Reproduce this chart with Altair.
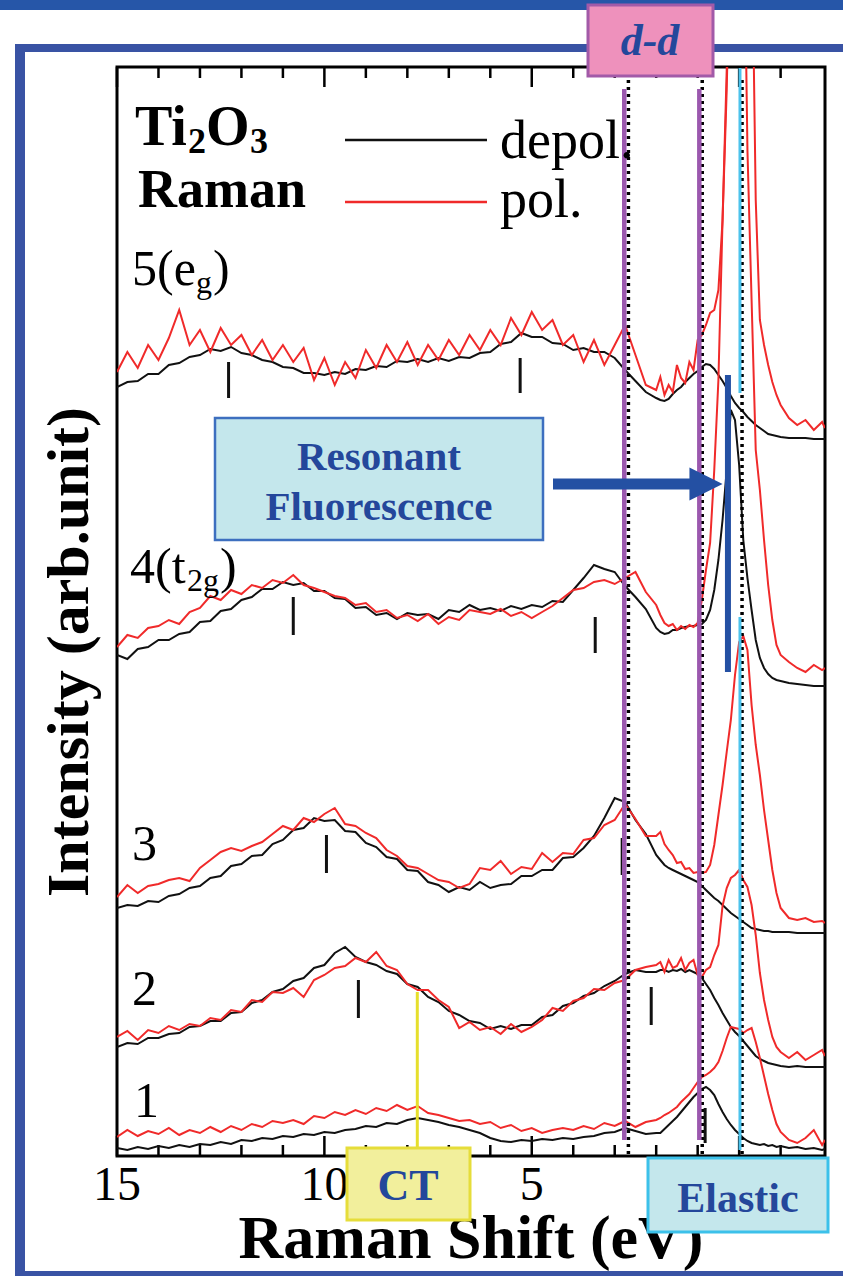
import altair as alt
import pandas as pd

# ---------------- data ----------------
energy = [15.0, 14.75, 14.5, 14.25, 14.0, 13.75, 13.5, 13.25, 13.0, 12.75, 12.5, 12.25, 12.0,
          11.75, 11.5, 11.25, 11.0, 10.75, 10.5, 10.25, 10.0, 9.75, 9.5, 9.25, 9.0, 8.75, 8.5,
          8.25, 8.0, 7.75, 7.5, 7.25, 7.0, 6.75, 6.5, 6.25, 6.0, 5.75, 5.5, 5.25, 5.0, 4.75, 4.5,
          4.25, 4.0, 3.75, 3.5, 3.25, 3.0, 2.75, 2.5, 2.25,
          2.0, 1.9, 1.8, 1.7, 1.6, 1.5, 1.4, 1.3, 1.2, 1.1, 1.0, 0.9, 0.8, 0.7, 0.6, 0.5, 0.4,
          0.3, 0.2, 0.1, 0.0, -0.1, -0.2, -0.3, -0.4, -0.5, -0.6, -0.7, -0.8, -0.9, -1.0,
          -1.2, -1.4, -1.6, -1.8, -2.0, -2.07]

depol_5 = [769, 774, 775, 782, 782, 791, 793, 799, 801, 807, 805, 809, 803, 801, 796, 794, 789, 788, 783, 783,
           781, 784, 782, 787, 786, 790, 789, 795, 794, 797, 794, 798, 795, 799, 798, 803, 804, 812, 814, 823,
           819, 819, 813, 812, 806, 808, 804, 804, 798, 786, 775, 764,
           758, 756, 755, 757, 762, 766, 769, 774, 778, 782, 785, 789, 792, 791, 787, 781, 775, 768, 760, 753,
           748, 744, 739, 735, 731, 728, 725, 722, 721, 720, 719,
           718, 718, 718, 717, 717, 717]
pol_5 = [784, 804, 788, 811, 796, 818, 846, 811, 826, 804, 828, 811, 821, 801, 816, 796, 811, 794, 808, 776,
         798, 771, 794, 778, 806, 788, 811, 794, 814, 791, 811, 796, 816, 801, 821, 806, 826, 811, 838, 821,
         844, 826, 836, 811, 821, 794, 816, 791, 811, 831, 801, 771,
         766, 779, 761, 771, 764, 791, 778, 773, 794, 786, 816, 821, 831, 843, 846, 866, 936, 1066, 1250, 1400,
         1450, 1450, 1400, 1250, 956, 836, 811, 791, 774, 761, 751,
         738, 731, 736, 726, 734, 728]

depol_4 = [501, 497, 507, 509, 516, 516, 522, 524, 534, 535, 545, 547, 556, 559, 567, 567, 574, 571, 573, 565,
           565, 558, 557, 548, 549, 541, 543, 537, 543, 541, 542, 537, 546, 544, 551, 546, 548, 545, 550, 547,
           551, 549, 555, 554, 566, 578, 591, 587, 584, 570, 559, 547,
           528, 524, 522, 523, 526, 526, 528, 529, 530, 530, 531, 532, 536, 546, 566, 596, 636, 686, 746, 736,
           691, 616, 578, 546, 516, 498, 488, 482, 478, 476, 475,
           473, 472, 471, 470, 470, 470]
pol_4 = [509, 521, 518, 528, 530, 536, 532, 544, 548, 560, 556, 566, 562, 571, 568, 576, 573, 581, 571, 568,
         564, 560, 558, 551, 553, 544, 546, 538, 541, 535, 542, 532, 539, 536, 546, 544, 542, 547, 540, 544,
         538, 544, 550, 558, 566, 568, 574, 576, 572, 578, 584, 564,
         551, 541, 533, 530, 532, 526, 530, 527, 531, 529, 533, 556, 586, 613, 686, 776, 936, 1086, 1300, 1500,
         1500, 1300, 1006, 856, 706, 666, 616, 571, 536, 511, 501,
         494, 488, 484, 491, 486, 488]

depol_3 = [248, 251, 250, 255, 254, 260, 262, 268, 270, 278, 280, 290, 292, 300, 301, 312, 316, 326, 328, 338,
           335, 336, 325, 324, 313, 309, 299, 297, 286, 285, 274, 271, 264, 269, 266, 274, 268, 271, 272, 280,
           280, 286, 286, 298, 299, 308, 320, 338, 358, 354, 336, 322,
           301, 296, 291, 288, 286, 284, 282, 280, 278, 276, 274, 270, 266, 262, 258, 255, 251, 247, 243, 240,
           237, 234, 231, 228, 227, 226, 225, 225, 224, 224, 224,
           224, 223, 223, 223, 223, 223]
pol_3 = [259, 271, 263, 270, 272, 276, 278, 275, 288, 296, 304, 308, 305, 310, 314, 322, 330, 326, 338, 334,
         342, 348, 332, 330, 323, 318, 306, 300, 290, 288, 282, 276, 274, 268, 272, 288, 286, 295, 282, 289,
         287, 303, 294, 303, 302, 316, 318, 331, 336, 352, 337, 320,
         320, 324, 312, 306, 301, 293, 294, 287, 288, 283, 284, 283, 284, 291, 311, 341, 371, 404, 436, 481,
         514, 520, 506, 451, 411, 381, 346, 316, 286, 263, 248,
         238, 236, 238, 234, 235, 233]

depol_2 = [109, 113, 112, 118, 118, 122, 123, 129, 130, 135, 135, 143, 144, 153, 156, 164, 167, 175, 178, 188,
           191, 203, 209, 199, 194, 191, 185, 182, 172, 169, 159, 154, 145, 141, 135, 133, 127, 130, 127, 131,
           131, 139, 141, 150, 153, 160, 163, 170, 175, 182, 186, 184,
           184, 186, 186, 184, 186, 185, 187, 184, 186, 184, 182, 178, 172, 166, 158, 151, 143, 136, 129, 124,
           120, 115, 110, 105, 100, 97, 95, 93, 92, 91, 90,
           89, 90, 89, 89, 89, 89]
pol_2 = [119, 125, 116, 126, 123, 130, 126, 132, 130, 138, 136, 146, 144, 156, 154, 164, 163, 168, 159, 176,
         181, 188, 190, 198, 194, 204, 190, 186, 172, 166, 166, 156, 149, 128, 134, 126, 129, 122, 132, 124,
         129, 136, 148, 145, 155, 158, 167, 166, 173, 176, 186, 189,
         191, 194, 184, 196, 188, 190, 198, 186, 193, 196, 181, 179, 186, 189, 201, 211, 250, 268, 278, 281,
         286, 276, 269, 251, 221, 183, 156, 136, 119, 109, 104,
         98, 104, 96, 101, 106, 100]

depol_1 = [8, 6, 9, 7, 10, 8, 11, 9, 12, 11, 14, 12, 16, 15, 18, 17, 20, 19, 22, 21,
           24, 23, 26, 27, 30, 29, 33, 32, 36, 38, 36, 34, 31, 29, 26, 23, 18, 15, 14, 16,
           15, 17, 16, 18, 17, 19, 20, 23, 24, 28, 25, 22,
           23, 23, 27, 31, 35, 39, 44, 49, 54, 59, 63, 67, 69, 66, 61, 52, 44, 37, 31, 26,
           22, 18, 15, 13, 12, 11, 12, 10, 11, 9, 10,
           8, 9, 7, 8, 6, 7]
pol_1 = [19, 26, 20, 25, 22, 28, 21, 26, 23, 29, 24, 30, 26, 32, 29, 35, 33, 36, 32, 40,
         38, 44, 41, 46, 42, 48, 45, 51, 46, 50, 43, 41, 38, 35, 36, 32, 34, 28, 31, 25,
         28, 23, 26, 28, 26, 30, 27, 33, 30, 35, 29, 34,
         36, 38, 41, 43, 46, 49, 54, 58, 62, 68, 74, 79, 81, 84, 88, 94, 105, 118, 129, 128,
         127, 123, 126, 128, 114, 98, 80, 62, 46, 32, 24,
         16, 13, 18, 26, 11, 16]

# peak markers (energy, lower / upper end in arb. units)
marker_energy = [12.31, 5.28, 10.75, 3.47, 9.95, 2.82, 9.18, 2.12, 0.82]
marker_low = [758, 763, 521, 503, 283, 281, 138, 131, 13]
marker_high = [794, 798, 559, 539, 321, 318, 176, 169, 48]

major_ticks = [15, 10, 5, 0]
major_labels = ["15", "10", "5", "0"]
minor_ticks = [14, 13, 12, 11, 9, 8, 7, 6, 4, 3, 2, 1, -1]
dotted_energy = [2.67, 0.89, -0.07]
dd_energy = [2.77, 0.96]
elastic_energy = [-0.02]
ct_energy = [7.76]
fluor_energy = [0.27]

# ---------------- build tables ----------------
rows = []
for name, series, pol in [("1", depol_1, "depol"), ("2", depol_2, "depol"), ("3", depol_3, "depol"),
                          ("4", depol_4, "depol"), ("5", depol_5, "depol"),
                          ("1", pol_1, "pol"), ("2", pol_2, "pol"), ("3", pol_3, "pol"),
                          ("4", pol_4, "pol"), ("5", pol_5, "pol")]:
    assert len(series) == len(energy), (name, pol, len(series))
    for e, v in zip(energy, series):
        rows.append({"energy": e, "intensity": v, "spectrum": name, "pol": pol})
df = pd.DataFrame(rows)
df_depol = df[df.pol == "depol"]
df_pol = df[df.pol == "pol"]
df_markers = pd.DataFrame({"energy": marker_energy, "low": marker_low, "high": marker_high})
df_labels = pd.DataFrame({"energy": major_ticks, "label": major_labels})

W, H = 708, 1089
SERIF = "Liberation Serif"
BLUE_TXT = "#24479b"
ONE = pd.DataFrame({"k": [0]})

xs = alt.Scale(domain=[15, -2.07], nice=False, zero=False)
ys = alt.Scale(domain=[0, 1089], nice=False, zero=False)
X0 = alt.X("energy:Q", scale=xs, axis=None)


def text_at(txt, x, y, size, weight="normal", style="normal", color="black",
            align="left", angle=0, baseline="alphabetic"):
    return alt.Chart(ONE).mark_text(
        text=txt, fontSize=size, fontWeight=weight, fontStyle=style, color=color,
        align=align, baseline=baseline, font=SERIF, angle=angle
    ).encode(x=alt.value(x), y=alt.value(y))


def box(x1, y1, x2, y2, fill, stroke=None, sw=0):
    kw = dict(fill=fill)
    if stroke:
        kw.update(stroke=stroke, strokeWidth=sw)
    return alt.Chart(ONE).mark_rect(**kw).encode(
        x=alt.value(x1), x2=alt.value(x2), y=alt.value(y1), y2=alt.value(y2))


def hrule(x1, x2, y, color, sw):
    return alt.Chart(ONE).mark_rule(color=color, strokeWidth=sw, strokeCap="butt").encode(
        x=alt.value(x1), x2=alt.value(x2), y=alt.value(y))


def vrule_data(values, y1, y2, color, sw, dash=None):
    kw = dict(color=color, strokeWidth=sw, strokeCap="butt")
    if dash:
        kw["strokeDash"] = dash
    return alt.Chart(pd.DataFrame({"energy": values})).mark_rule(**kw).encode(
        x=X0, y=alt.value(y1), y2=alt.value(y2))


layers = []
# slide decorations
layers.append(box(-117, -67, 726, -57, "#2656a8"))
layers.append(box(-102, -23, 726, -15, "#3953a4"))
layers.append(box(-102, -23, -92, 1209, "#3953a4"))
layers.append(box(-102, 1204, 726, 1209, "#3953a4"))

# plot frame
layers.append(alt.Chart(ONE).mark_rect(fillOpacity=0, stroke="black", strokeWidth=3).encode(
    x=alt.value(0), x2=alt.value(W), y=alt.value(0), y2=alt.value(H)))

# inward ticks
layers.append(vrule_data(major_ticks, H, H - 20, "black", 2.5))
layers.append(vrule_data(minor_ticks, H, H - 11, "black", 2.5))
layers.append(vrule_data(major_ticks, 0, 20, "black", 2.5))
layers.append(vrule_data(minor_ticks, 0, 11, "black", 2.5))

# tick labels
layers.append(alt.Chart(df_labels).mark_text(font=SERIF, fontSize=48, color="black",
                                             align="center", baseline="alphabetic").encode(
    x=X0, y=alt.value(H + 44), text="label:N"))

# spectra
black = alt.Chart(df_depol).mark_line(color="#111111", strokeWidth=2, clip=True).encode(
    x=X0, y=alt.Y("intensity:Q", scale=ys, axis=None), detail="spectrum:N")
red = alt.Chart(df_pol).mark_line(color="#f02a2a", strokeWidth=2, clip=True).encode(
    x=X0, y=alt.Y("intensity:Q", scale=ys, axis=None), detail="spectrum:N")
layers += [black, red]

# peak markers
layers.append(alt.Chart(df_markers).mark_rule(color="#111111", strokeWidth=3).encode(
    x=X0, y=alt.Y("low:Q", scale=ys, axis=None), y2="high:Q"))

# dotted guide lines and coloured overlays
layers.append(vrule_data(dotted_energy, 13, H, "black", 3.5, [3, 4]))
layers.append(vrule_data(dd_energy, 22, 1073, "#9b58ae", 4.5))
layers.append(vrule_data(elastic_energy, 1, 326, "#4cc3ec", 3))
layers.append(vrule_data(elastic_energy, 550, 1083, "#4cc3ec", 3))
layers.append(vrule_data(ct_energy, 925, 1081, "#e6df2c", 3))
layers.append(vrule_data(fluor_energy, 308, 605, "#2450a3", 6))

# legend
layers.append(text_at("Ti", 18, 78, 56, weight="bold"))
layers.append(text_at("2", 71, 86, 36, weight="bold"))
layers.append(text_at("O", 89, 78, 56, weight="bold"))
layers.append(text_at("3", 133, 86, 36, weight="bold"))
layers.append(text_at("Raman", 21, 140, 54, weight="bold"))
layers.append(hrule(228, 370, 73, "#111111", 2.5))
layers.append(hrule(228, 370, 135, "#f02a2a", 2.5))
layers.append(text_at("depol.", 383, 91, 54))
layers.append(text_at("pol.", 383, 150, 54))

# curve labels
layers.append(text_at("5(e", 15, 218, 50))
layers.append(text_at("g", 79, 226, 32))
layers.append(text_at(")", 96, 218, 50))
layers.append(text_at("4(t", 13, 516, 50))
layers.append(text_at("2g", 70, 524, 32))
layers.append(text_at(")", 103, 516, 50))
layers.append(text_at("3", 15, 793, 50))
layers.append(text_at("2", 15, 938, 50))
layers.append(text_at("1", 17, 1050, 50))

# axis titles
layers.append(text_at("Raman Shift (eV)", 354, 1191, 62, weight="bold", align="center"))
layers.append(text_at("Intensity (arb.unit)", -47, 585, 60, weight="bold", align="center",
                      angle=270, baseline="middle"))

# annotation boxes
layers.append(box(471, -62, 596, 9, "#ee91bc", "#a25aa8", 3))
layers.append(text_at("d-d", 533, -12, 44, weight="bold", style="italic", color=BLUE_TXT, align="center"))
layers.append(box(98, 351, 426, 473, "#c4e7ec", "#3d6fbf", 2.5))
layers.append(text_at("Resonant", 262, 403, 41, weight="bold", color=BLUE_TXT, align="center"))
layers.append(text_at("Fluorescence", 262, 453, 41, weight="bold", color=BLUE_TXT, align="center"))
layers.append(box(230, 1081, 353, 1153, "#f2ef9c", "#e6dd3a", 3))
layers.append(text_at("CT", 291, 1133, 44, weight="bold", color=BLUE_TXT, align="center"))
layers.append(box(531, 1091, 711, 1165, "#c4e7ec", "#3cc1ea", 3))
layers.append(text_at("Elastic", 621, 1145, 42, weight="bold", color=BLUE_TXT, align="center"))

# arrow
layers.append(hrule(436, 576, 417, "#2450a3", 11))
layers.append(alt.Chart(ONE).mark_point(shape="M-1,-1L1,0L-1,1Z", filled=True, size=1100,
                                        color="#2450a3", opacity=1).encode(
    x=alt.value(589), y=alt.value(417)))

chart = alt.layer(*layers).properties(
    width=W, height=H,
    padding={"left": 117, "top": 67, "right": 18, "bottom": 120},
    autosize=alt.AutoSizeParams(type="none"),
    background="white",
).configure_view(stroke=None)

chart.save("out.html", embed_options={"renderer": "svg", "actions": False})
